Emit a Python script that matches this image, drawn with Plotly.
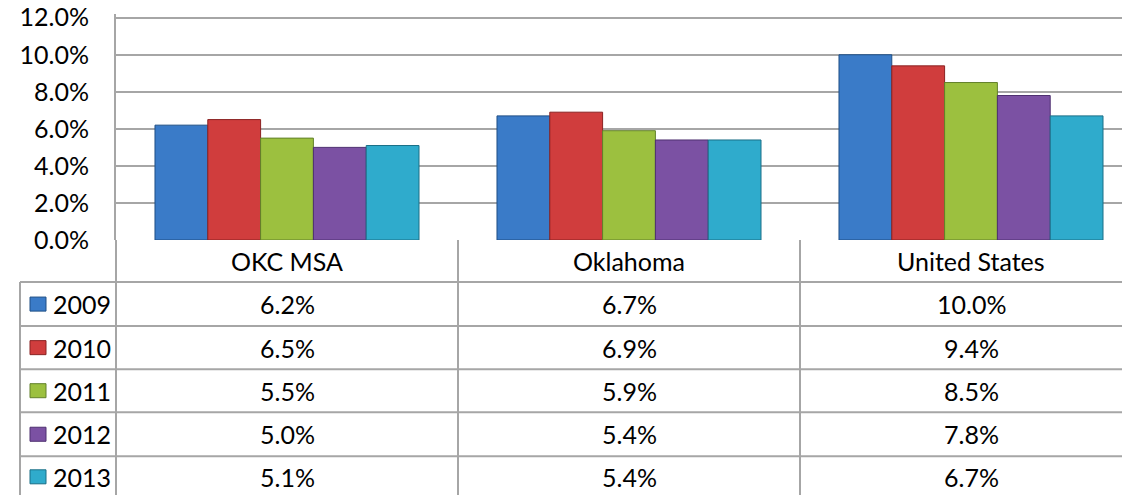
import plotly.graph_objects as go

categories = ['OKC MSA', 'Oklahoma', 'United States']
years = ['2009', '2010', '2011', '2012', '2013']
rate_2009 = [6.2, 6.7, 10.0]
rate_2010 = [6.5, 6.9, 9.4]
rate_2011 = [5.5, 5.9, 8.5]
rate_2012 = [5.0, 5.4, 7.8]
rate_2013 = [5.1, 5.4, 6.7]
y_ticks = [0, 2, 4, 6, 8, 10, 12]

series = [rate_2009, rate_2010, rate_2011, rate_2012, rate_2013]
colors = ['#3a7bc8', '#d03d3d', '#9cc03f', '#7b51a3', '#2fabcc']
edges = ['#1f4f85', '#8a2222', '#62802a', '#4e3070', '#1a6f87']

W, H = 1130, 495
OFF = 8  # page body margin
FONT = 'Lato'
FS = 25
GRID = '#a6a6a6'

# reference pixel layout (12% sits at y=18, 0% at y=240)
YMAX = 12.2
PB = 240
PT = PB - (PB - 18) * YMAX / 12
PL = 116
PR = W + OFF
PW, PH = PR - PL, PB - PT


def px(x):
    return (x - PL) / PW


def py(y):
    return (PB - y) / PH


fig = go.Figure()
for yr, vals, c, e in zip(years, series, colors, edges):
    fig.add_trace(go.Bar(x=categories, y=vals, name=yr,
                         marker=dict(color=c, line=dict(color=e, width=1))))

# table geometry (pixels)
header_bot = 282
row_lines = [282, 326, 369, 412, 456]
row_bottom = 505
row_mid = [304, 347.5, 390.5, 434, 476.5]

shapes = []
line = dict(color=GRID, width=2)
for y in row_lines:
    shapes.append(dict(type='line', xref='paper', yref='paper',
                       x0=px(20), x1=1, y0=py(y), y1=py(y), line=line))
for b in [0.5, 1.5]:
    shapes.append(dict(type='line', xref='x', yref='paper',
                       x0=b, x1=b, y0=py(PB), y1=py(row_bottom), line=line))
shapes.append(dict(type='line', xref='paper', yref='paper',
                   x0=0, x1=0, y0=py(PB), y1=py(row_bottom), line=line))
shapes.append(dict(type='line', xref='paper', yref='paper',
                   x0=px(20), x1=px(20), y0=py(header_bot), y1=py(row_bottom), line=line))
for i, (c, e) in enumerate(zip(colors, edges)):
    cy = row_mid[i]
    shapes.append(dict(type='rect', xref='paper', yref='paper',
                       x0=px(30), x1=px(46), y0=py(cy + 7), y1=py(cy - 7),
                       fillcolor=c, line=dict(color=e, width=1)))

txt = dict(showarrow=False, yanchor='middle', font=dict(size=FS, color='#000'))
annotations = []
for cat in categories:
    annotations.append(dict(x=cat, y=py((PB + header_bot) / 2), xref='x', yref='paper',
                            xanchor='center', text=cat, **txt))
for i, (yr, vals) in enumerate(zip(years, series)):
    annotations.append(dict(x=px(51), y=py(row_mid[i]), xref='paper', yref='paper',
                            xanchor='left', text=yr, **txt))
    for cat, v in zip(categories, vals):
        annotations.append(dict(x=cat, y=py(row_mid[i]), xref='x', yref='paper',
                                xanchor='center', text=f'{v:.1f}%', **txt))

fig.update_layout(
    width=W, height=H,
    margin=dict(l=PL - OFF, r=0, t=PT - OFF, b=H - (PB - OFF), pad=0),
    paper_bgcolor='white', plot_bgcolor='white',
    font=dict(family=FONT, size=FS, color='#000'),
    showlegend=False,
    barmode='group', bargap=0.228, bargroupgap=0,
    xaxis=dict(range=[-0.5, -0.5 + PW / 342], showticklabels=False, automargin=False,
               showgrid=False, zeroline=False, showline=False, fixedrange=True),
    yaxis=dict(range=[0, YMAX], tickvals=y_ticks, automargin=False,
               ticktext=[f'{t:.1f}%' for t in y_ticks], showgrid=True, gridcolor=GRID,
               gridwidth=2, zeroline=False, showline=True, linecolor=GRID, linewidth=2,
               ticks='', ticklabelstandoff=20, ticklabeloverflow='allow',
               tickfont=dict(size=FS)),
    shapes=shapes,
    annotations=annotations,
)

fig.write_html('out.html')
